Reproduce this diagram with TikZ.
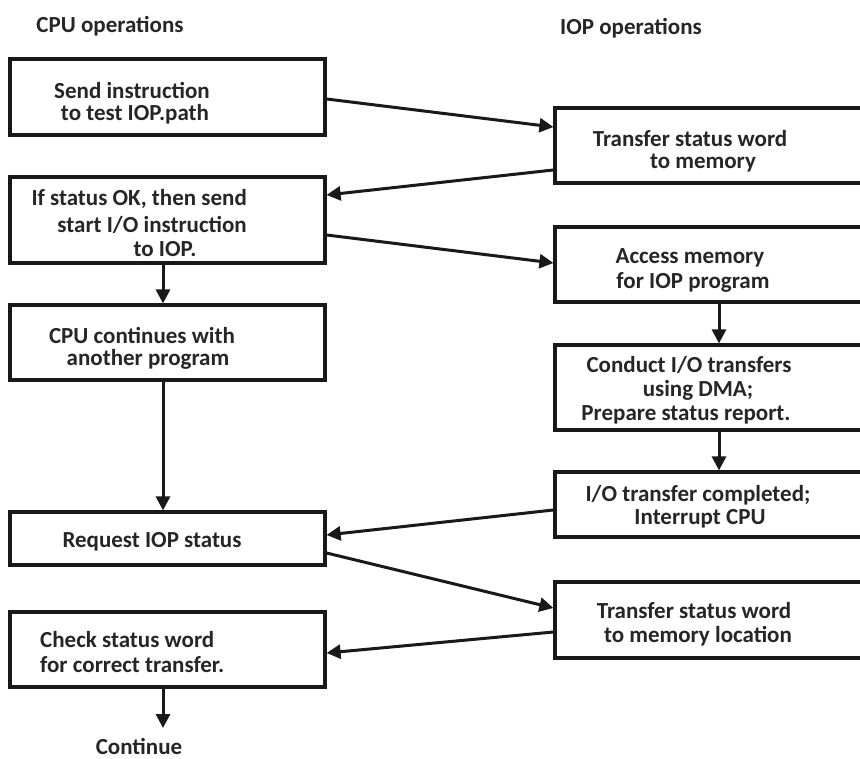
\documentclass[tikz,border=0pt]{standalone}
\usepackage{fontspec}
\setmainfont{Carlito}
\usetikzlibrary{arrows.meta}
\begin{document}
\begin{tikzpicture}[x=1pt,y=-1pt,
  box/.style={draw=black!90, line width=3.2pt, inner sep=0pt, fill=white},
  lbox/.style={box, minimum width=315pt},
  rbox/.style={box, minimum width=335pt},
  txt/.style={font=\bfseries\fontsize{23}{24}\selectfont, text=black!85, inner sep=0pt, align=center},
  head/.style={txt},
  flow/.style={line width=3pt, draw=black!90, -{Triangle[length=14pt,width=14pt]}}
]
% page area
\clip (0,0) rectangle (860,759);
\fill[white] (0,0) rectangle (860,759);

% column headings
\node[head] (hcpu) at (110,26) {CPU operations};
\node[head] (hiop) at (631,28) {IOP operations};

% CPU column
\node[lbox, minimum height=76pt] (b1) at (167.5,97) {};
\node[lbox, minimum height=86pt] (b2) at (167.5,220) {};
\node[lbox, minimum height=75pt] (b3) at (167.5,342.5) {};
\node[lbox, minimum height=53pt] (b4) at (167.5,538.5) {};
\node[lbox, minimum height=75pt] (b5) at (167.5,649.5) {};

% IOP column
\node[rbox, minimum height=75pt] (r1) at (722.5,145.5) {};
\node[rbox, minimum height=75pt] (r2) at (722.5,264.5) {};
\node[rbox, minimum height=85pt] (r3) at (722.5,387.5) {};
\node[rbox, minimum height=65pt] (r4) at (722.5,504.5) {};
\node[rbox, minimum height=76pt] (r5) at (722.5,620) {};

% box texts
\node[txt] (t1a) at (132,91) {Send instruction};
\node[txt] (t1b) at (135,114) {to test IOP.path};
\node[txt, anchor=east] (t2a) at (247,199) {If status OK, then send};
\node[txt, anchor=east] (t2b) at (247,225) {start I/O instruction};
\node[txt] (t2c) at (165,249) {to IOP.};
\node[txt] (t3a) at (142,335) {CPU continues with};
\node[txt] (t3b) at (148,359) {another program};
\node[txt] (t4) at (152,542) {Request IOP status};
\node[txt, anchor=west] (t5a) at (40,640) {Check status word};
\node[txt, anchor=west] (t5b) at (40,665) {for correct transfer.};
\node[txt] (cont) at (139,746) {Continue};

\node[txt] (s1a) at (690,139) {Transfer status word};
\node[txt] (s1b) at (703,163) {to memory};
\node[txt] (s2a) at (690,258) {Access memory};
\node[txt] (s2b) at (693,282) {for IOP program};
\node[txt] (s3a) at (689,365) {Conduct I/O transfers};
\node[txt] (s3b) at (698,390) {using DMA;};
\node[txt] (s3c) at (686,415) {Prepare status report.};
\node[txt] (s4a) at (698,495) {I/O transfer completed;};
\node[txt] (s4b) at (700,519) {Interrupt CPU};
\node[txt] (s5a) at (694,611) {Transfer status word};
\node[txt] (s5b) at (698,636) {to memory location};

% connectors between the two columns
\draw[flow] (b1.east |- 0,99) -- (r1.west |- 0,127);
\draw[flow] (r1.west |- 0,170) -- (b2.east |- 0,195);
\draw[flow] (b2.east |- 0,235) -- (r2.west |- 0,263);
\draw[flow] (r4.west |- 0,510) -- (b4.east |- 0,535);
\draw[flow] (b4.east |- 0,553) -- (r5.west |- 0,608);
\draw[flow] (r5.west |- 0,632) -- (b5.east |- 0,653);

% vertical flow within each column
\draw[flow] (b2.south -| 163,0) -- (b3.north -| 163,0);
\draw[flow] (b3.south -| 163,0) -- (b4.north -| 163,0);
\draw[flow] (r2.south -| 719,0) -- (r3.north -| 719,0);
\draw[flow] (r3.south -| 719,0) -- (r4.north -| 719,0);
\draw[flow] (b5.south -| 163,0) -- (163,728);
\end{tikzpicture}
\end{document}
